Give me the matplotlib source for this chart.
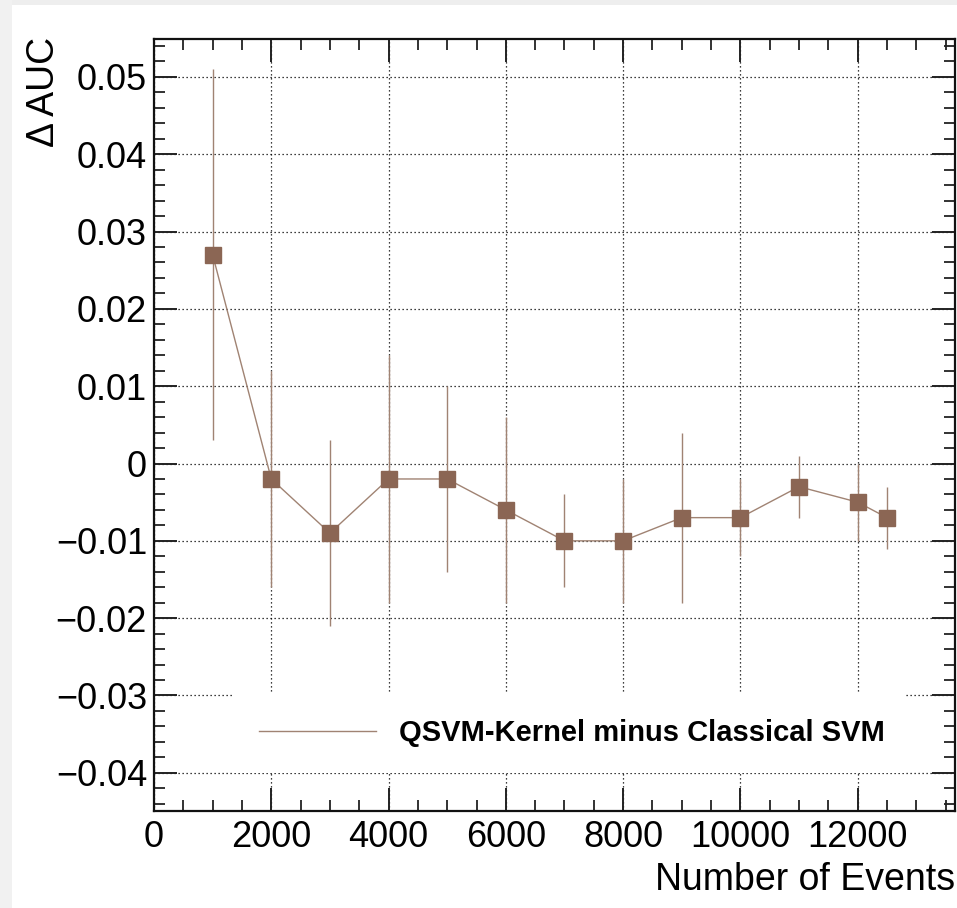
import matplotlib
matplotlib.use("Agg")
import matplotlib.pyplot as plt
import matplotlib.patches as patches
from matplotlib.ticker import MultipleLocator, FuncFormatter

# Data
n_events = [1000, 2000, 3000, 4000, 5000, 6000, 7000, 8000, 9000, 10000, 11000, 12000, 12500]
delta_auc = [0.027, -0.002, -0.009, -0.002, -0.002, -0.006, -0.010, -0.010, -0.007, -0.007, -0.003, -0.005, -0.007]
delta_err = [0.024, 0.014, 0.012, 0.016, 0.012, 0.012, 0.006, 0.008, 0.011, 0.005, 0.004, 0.005, 0.004]
series_label = "QSVM-Kernel minus Classical SVM"

plt.rcParams['font.family'] = ['Liberation Sans', 'DejaVu Sans']

marker_color = '#8b6654'
line_color = '#a08373'

fig = plt.figure(figsize=(9.57, 9.08), dpi=100)

# faint screenshot frame on top / left
fig.patches.append(patches.Rectangle((0, 1 - 5 / 908), 1, 5 / 908, transform=fig.transFigure,
                                     facecolor='#eeeeee', edgecolor='none', zorder=-10))
fig.patches.append(patches.Rectangle((0, 0), 12 / 957, 1, transform=fig.transFigure,
                                     facecolor='#f1f1f1', edgecolor='none', zorder=-10))

ax = fig.add_axes([154 / 957, 97.3 / 908, 801 / 957, 771.7 / 908])

ax.errorbar(n_events, delta_auc, yerr=delta_err, fmt='none', ecolor=line_color,
            elinewidth=1.0, capsize=0, zorder=3)
ax.plot(n_events, delta_auc, color=line_color, lw=1.0, zorder=3)
ax.plot(n_events, delta_auc, linestyle='none', marker='s', markersize=11.5,
        color=marker_color, markeredgecolor=marker_color, zorder=4)

ax.set_xlim(0, 13660)
ax.set_ylim(-0.0449, 0.0549)

ax.xaxis.set_major_locator(MultipleLocator(2000))
ax.xaxis.set_minor_locator(MultipleLocator(500))
ax.yaxis.set_major_locator(MultipleLocator(0.01))
ax.yaxis.set_minor_locator(MultipleLocator(0.002))


def y_fmt(v, pos):
    if abs(v) < 1e-9:
        return "0"
    return ("%.2f" % v).replace("-", "\u2212")


ax.yaxis.set_major_formatter(FuncFormatter(y_fmt))
ax.xaxis.set_major_formatter(FuncFormatter(lambda v, p: "%d" % v))

ax.tick_params(which='both', direction='in', top=True, right=True, colors='#222222',
               labelcolor='black', labelsize=26)
ax.tick_params(which='major', length=16.5, width=1.4)
ax.tick_params(which='minor', length=8, width=1.3)
ax.tick_params(axis='y', which='major', pad=5)
ax.tick_params(axis='x', which='major', pad=7)

for sp in ax.spines.values():
    sp.set_linewidth(1.6)
    sp.set_color('#111111')

ax.grid(True, which='major', color='black', linestyle=(0, (1, 2.2)), linewidth=0.9)
ax.set_axisbelow(True)

ax.set_xlabel("Number of Events", fontsize=27, loc='right')
ax.xaxis.set_label_coords(1.0, -0.066)
fig.text(44 / 957, 1 - 37 / 908, "\u0394 AUC", rotation=90, ha='center', va='top', fontsize=27)

leg = ax.legend([plt.Line2D([], [], color=line_color, lw=1.0)], [series_label],
                loc='center', bbox_to_anchor=(0.0986, 0.1007, 0.839, 0.0), mode='expand',
                prop={'weight': 'bold', 'size': 21}, handlelength=4.0, handletextpad=0.8,
                borderpad=0.9, borderaxespad=0, fancybox=False, framealpha=1.0,
                edgecolor='none', facecolor='white')

fig.savefig('out.png', dpi=100)
